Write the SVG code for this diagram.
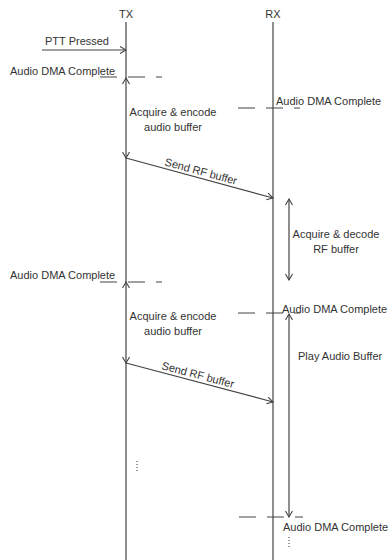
<svg xmlns="http://www.w3.org/2000/svg" width="390" height="560" viewBox="0 0 390 560">
<style>
  text { font-family: "Liberation Sans", Arial, sans-serif; font-size: 11px; fill: #333; }
  .ln { stroke: #444; stroke-width: 1.2; fill: none; }
  .ov { stroke: none; fill: none; }
  .dash { stroke: #444; stroke-width: 1.2; fill: none; stroke-dasharray: 17 11; }
  .dots { stroke: #555; stroke-width: 1.2; fill: none; stroke-dasharray: 1 2; }
  .mid { text-anchor: middle; }
</style>
<defs>
  <marker id="ah" viewBox="-8 -5 9 10" refX="0" refY="0" markerWidth="9" markerHeight="10" markerUnits="userSpaceOnUse" orient="auto-start-reverse">
    <path d="M-6,-3.5 L0,0 L-6,3.5" stroke="#444" stroke-width="1.1" fill="none"/>
  </marker>
</defs>
<rect width="390" height="560" fill="#fff"/>

<g id="tx">
  <text class="mid" x="126" y="18">TX</text>
  <line class="ln" x1="126" y1="22" x2="126" y2="560"/>
</g>
<g id="rx">
  <text class="mid" x="273" y="18">RX</text>
  <line class="ln" x1="273" y1="22" x2="273" y2="560"/>
</g>

<g id="connectors">
  <!-- PTT pressed -->
  <line class="ln" x1="42" y1="50" x2="126" y2="50" marker-end="url(#ah)"/>
  <!-- DMA complete markers -->
  <line class="dash" x1="100" y1="77" x2="162" y2="77"/>
  <line class="dash" x1="238" y1="108" x2="300" y2="108"/>
  <line class="dash" x1="100" y1="282" x2="162" y2="282"/>
  <line class="dash" x1="238" y1="313" x2="300" y2="313"/>
  <line class="dash" x1="239" y1="517" x2="303" y2="517"/>
  <!-- encode ranges on TX (drawn along the TX lifeline) -->
  <line class="ov" x1="126" y1="78" x2="126" y2="158" marker-start="url(#ah)" marker-end="url(#ah)"/>
  <line class="ov" x1="126" y1="282" x2="126" y2="363" marker-start="url(#ah)" marker-end="url(#ah)"/>
  <!-- send RF buffer -->
  <line class="ln" x1="126" y1="158" x2="273" y2="198" marker-end="url(#ah)"/>
  <line class="ln" x1="126" y1="363" x2="273" y2="402" marker-end="url(#ah)"/>
  <!-- decode range -->
  <line class="ln" x1="289" y1="199" x2="289" y2="280" marker-start="url(#ah)" marker-end="url(#ah)"/>
  <!-- play audio range -->
  <line class="ln" x1="289" y1="314" x2="289" y2="517" marker-start="url(#ah)" marker-end="url(#ah)"/>
  <!-- continuation dots -->
  <line class="dots" x1="137" y1="461" x2="137" y2="473"/>
  <line class="dots" x1="289" y1="537" x2="289" y2="549"/>
</g>

<g id="labels">
  <text x="45" y="45">PTT Pressed</text>
  <text x="10" y="75">Audio DMA Complete</text>
  <text x="276" y="105">Audio DMA Complete</text>
  <text class="mid" x="173" y="116">Acquire &amp; encode</text>
  <text class="mid" x="173" y="131">audio buffer</text>
  <text class="mid" transform="translate(200,175) rotate(15.2)">Send RF buffer</text>
  <text class="mid" x="336" y="238">Acquire &amp; decode</text>
  <text class="mid" x="336" y="253">RF buffer</text>
  <text x="10" y="279">Audio DMA Complete</text>
  <text class="mid" x="173" y="320">Acquire &amp; encode</text>
  <text class="mid" x="173" y="335">audio buffer</text>
  <text x="282" y="313">Audio DMA Complete</text>
  <text x="298" y="360">Play Audio Buffer</text>
  <text class="mid" transform="translate(197,378.5) rotate(14.9)">Send RF buffer</text>
  <text x="283" y="531">Audio DMA Complete</text>
</g>
</svg>
